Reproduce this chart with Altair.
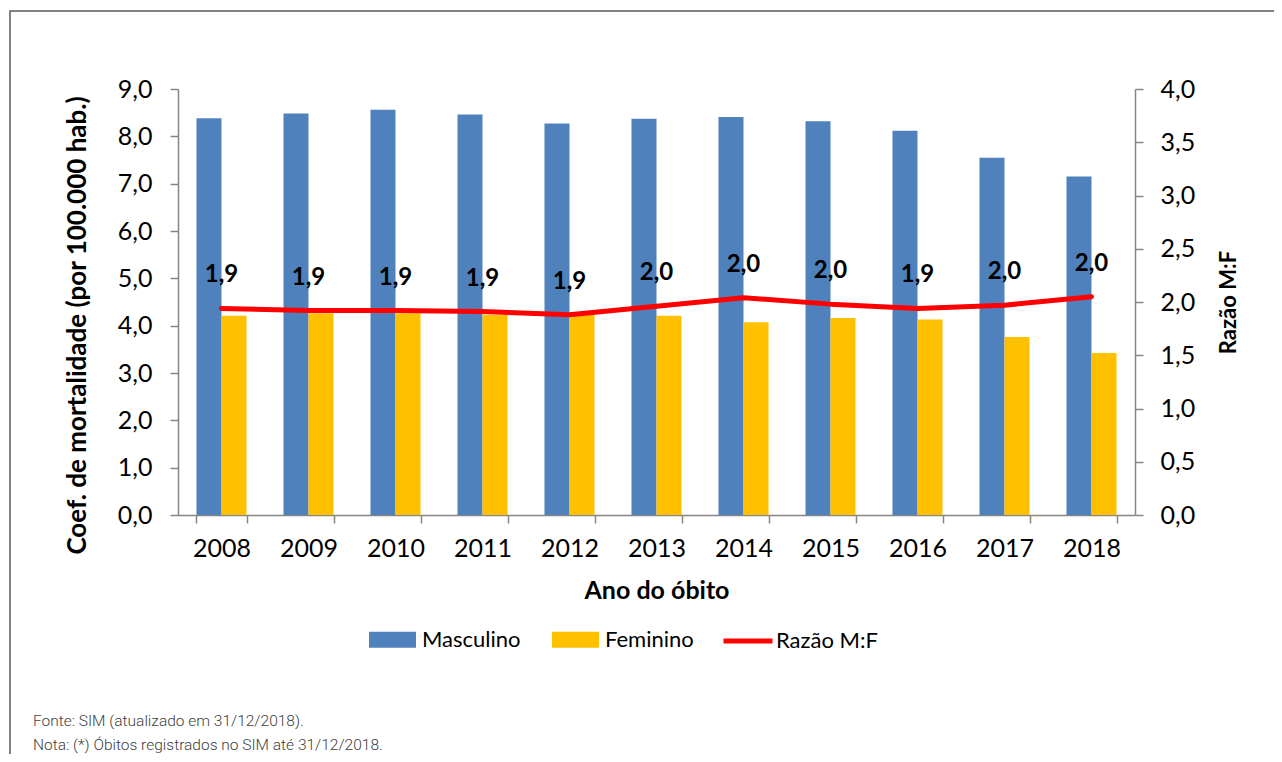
import altair as alt
import pandas as pd

anos = ["2008", "2009", "2010", "2011", "2012", "2013", "2014", "2015", "2016", "2017", "2018"]
masculino = [8.38, 8.48, 8.56, 8.46, 8.27, 8.37, 8.41, 8.32, 8.12, 7.55, 7.15]
feminino = [4.21, 4.26, 4.26, 4.23, 4.28, 4.21, 4.07, 4.16, 4.13, 3.76, 3.42]
razao = [1.94, 1.92, 1.92, 1.91, 1.88, 1.96, 2.04, 1.98, 1.94, 1.97, 2.05]
rotulos = ["1,9", "1,9", "1,9", "1,9", "1,9", "2,0", "2,0", "2,0", "1,9", "2,0", "2,0"]
series_barras = ["Masculino", "Feminino"]
cores_barras = ["#4F81BD", "#FFC000"]
serie_linha = "Razão M:F"
cor_linha = "#FF0000"
ticks_esq = [0, 1, 2, 3, 4, 5, 6, 7, 8, 9]
ticks_dir = [0, 0.5, 1, 1.5, 2, 2.5, 3, 3.5, 4]
notas = ["Fonte: SIM (atualizado em 31/12/2018).", "Nota: (*) Óbitos registrados no SIM até 31/12/2018."]

df_barras = pd.DataFrame({
    "ano": anos * 2,
    "sexo": [series_barras[0]] * len(anos) + [series_barras[1]] * len(anos),
    "coef": masculino + feminino,
})
df_linha = pd.DataFrame({"ano": anos, "razao": razao, "rotulo": rotulos, "serie": serie_linha})

fmt_virgula = "replace(format(datum.value, '.1f'), '.', ',')"
GRAY = "#868686"
FONT = "Lato"

x_enc = alt.X(
    "ano:N", sort=anos,
    scale=alt.Scale(paddingInner=0.425, paddingOuter=0.2125),
    axis=alt.Axis(
        title="Ano do óbito", labelAngle=0, tickBand="extent",
        domainColor=GRAY, domainWidth=1.5, tickColor=GRAY, tickWidth=1.5, tickSize=8,
        labelFontSize=25, labelPadding=13, labelColor="black", labelFont=FONT,
        titleFontSize=25, titleFontWeight="bold", titleFont=FONT, titleColor="black", titlePadding=17,
    ),
)

moldura = alt.Chart(alt.Data(values=[{"k": 1}])).mark_rect(
    filled=False, stroke="#5a5a5a", strokeWidth=1.5
).encode(
    x=alt.value(-168), x2=alt.value(1400), y=alt.value(-78), y2=alt.value(900)
)

rodape = alt.Chart(alt.Data(values=[{"t": "\n".join(notas)}])).mark_text(
    align="left", baseline="alphabetic", lineBreak="\n", lineHeight=24,
    fontSize=15.5, font="Roboto", fontWeight=300, color="#404040"
).encode(x=alt.value(-145), y=alt.value(637), text="t:N")

barras = alt.Chart(df_barras).mark_bar().encode(
    x=x_enc,
    xOffset=alt.XOffset("sexo:N", sort=series_barras, scale=alt.Scale(paddingInner=0, paddingOuter=0)),
    y=alt.Y(
        "coef:Q", scale=alt.Scale(domain=[0, 9], nice=False),
        axis=alt.Axis(
            values=ticks_esq, labelExpr=fmt_virgula, grid=False,
            title="Coef. de mortalidade (por 100.000 hab.)", titleY=236,
            domainColor=GRAY, domainWidth=1.5, tickColor=GRAY, tickWidth=1.5, tickSize=8,
            labelFontSize=25, labelPadding=18, labelColor="black", labelFont=FONT,
            titleFontSize=26, titleFontWeight="bold", titleFont=FONT, titleColor="black", titlePadding=27,
        ),
    ),
    color=alt.Color(
        "sexo:N", sort=series_barras,
        scale=alt.Scale(domain=series_barras, range=cores_barras),
        legend=alt.Legend(
            title=None, orient="none", direction="horizontal", columns=2,
            legendX=191, legendY=527, padding=0,
            symbolType="M-1,-0.34H1V0.34H-1Z", symbolSize=2209, symbolStrokeWidth=0,
            labelFontSize=22, labelFont=FONT, labelColor="black", labelOffset=6,
            columnPadding=31,
        ),
    ),
)

linha = alt.Chart(df_linha).mark_line(strokeWidth=5, strokeCap="round", strokeJoin="round").encode(
    x=x_enc,
    y=alt.Y(
        "razao:Q", scale=alt.Scale(domain=[0, 4], nice=False),
        axis=alt.Axis(
            orient="right", values=ticks_dir, labelExpr=fmt_virgula, grid=False,
            title=serie_linha, titleAngle=270, titleBaseline="top",
            domainColor=GRAY, domainWidth=1.5, tickColor=GRAY, tickWidth=1.5, tickSize=8,
            labelFontSize=25, labelPadding=17, labelColor="black", labelFont=FONT,
            titleFontSize=22, titleFontWeight="bold", titleFont=FONT, titleColor="black", titlePadding=24,
        ),
    ),
    stroke=alt.Stroke(
        "serie:N", scale=alt.Scale(domain=[serie_linha], range=[cor_linha]),
        legend=alt.Legend(
            title=None, orient="none", direction="horizontal",
            legendX=543, legendY=525, padding=0,
            symbolType="stroke", symbolSize=2401, symbolStrokeWidth=5,
            labelFontSize=22, labelFont=FONT, labelColor="black", labelOffset=1,
        ),
    ),
)

rotulo = alt.Chart(df_linha).mark_text(
    dy=-33, fontSize=24, fontWeight="bold", font=FONT, color="black"
).encode(
    x=x_enc,
    y=alt.Y("razao:Q", scale=alt.Scale(domain=[0, 4], nice=False), axis=None),
    text="rotulo:N",
)

chart = alt.layer(moldura, barras, linha, rotulo, rodape).resolve_scale(
    y="independent"
).properties(
    width=957, height=426,
    padding={"left": 170, "top": 81, "right": 139, "bottom": 239},
    autosize=alt.AutoSizeParams(type="none"),
    background="white",
).configure_view(stroke=None)

chart.save("out.html", embed_options={"renderer": "svg", "actions": False})
